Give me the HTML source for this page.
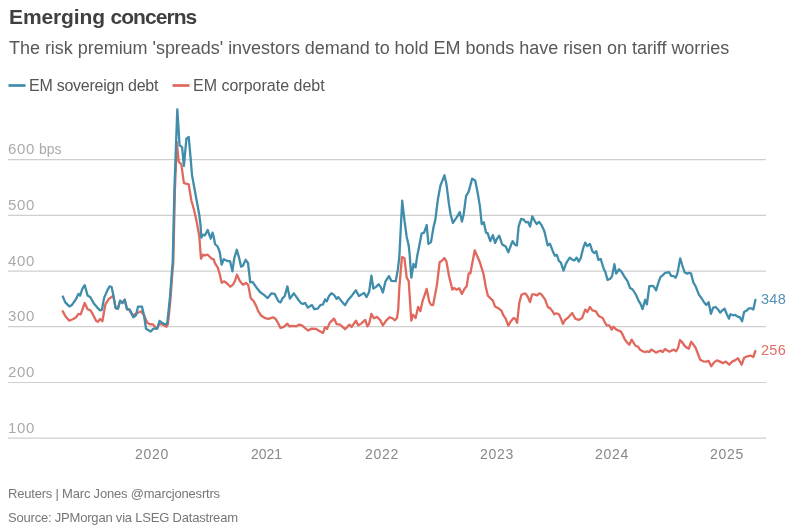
<!DOCTYPE html>
<html><head><meta charset="utf-8">
<style>
html,body{margin:0;padding:0;background:#fff;}
body{width:795px;height:525px;position:relative;overflow:hidden;font-family:"Liberation Sans",sans-serif;}
.t{position:absolute;white-space:nowrap;line-height:1;will-change:transform;}
#title{left:9px;top:6px;font-size:21px;font-weight:bold;color:#404040;letter-spacing:-0.45px;}
#sub{left:9px;top:39px;font-size:18px;color:#595959;letter-spacing:-0.03px;}
.leg{top:78px;font-size:16px;color:#555;}
.yl{font-size:15px;color:#aaa;left:7.6px;letter-spacing:0.6px;}
.xl{font-size:14px;color:#888;top:447px;letter-spacing:0.7px;}
.ft{font-size:13px;color:#777;left:8px;letter-spacing:-0.2px;}
svg{position:absolute;left:0;top:0;}
</style></head><body>
<div class="t" id="title"><span style="letter-spacing:-0.12px">Emerging</span><span style="position:absolute;left:101.5px;letter-spacing:-0.95px">concerns</span></div>
<div class="t" id="sub">The risk premium 'spreads' investors demand to hold EM bonds have risen on tariff worries</div>
<div class="t leg" style="left:29px;letter-spacing:-0.25px">EM sovereign debt</div>
<div class="t leg" style="left:193px">EM corporate debt</div>
<div class="t yl" style="top:141px;letter-spacing:0"><span style="letter-spacing:0.7px">600</span><span style="font-size:14px;letter-spacing:0"> bps</span></div>
<div class="t yl" style="top:197px">500</div>
<div class="t yl" style="top:253px">400</div>
<div class="t yl" style="top:308px">300</div>
<div class="t yl" style="top:364px">200</div>
<div class="t yl" style="top:420px">100</div>
<div class="t xl" style="left:134.7px">2020</div>
<div class="t xl" style="left:251.3px;letter-spacing:0">2021</div>
<div class="t xl" style="left:365.3px">2022</div>
<div class="t xl" style="left:480.3px">2023</div>
<div class="t xl" style="left:595.3px">2024</div>
<div class="t xl" style="left:710.3px">2025</div>
<div class="t" style="left:760.6px;top:291.8px;font-size:14.5px;letter-spacing:0.3px;color:#5392b0">348</div>
<div class="t" style="left:760.8px;top:342.6px;font-size:14.5px;letter-spacing:0.3px;color:#de7065">256</div>
<div class="t ft" style="top:487px">Reuters | Marc Jones @marcjonesrtrs</div>
<div class="t ft" style="top:511px">Source: JPMorgan via LSEG Datastream</div>
<svg width="795" height="525" viewBox="0 0 795 525">
<g stroke="#cfcfcf" stroke-width="1.2">
<line x1="8" x2="766" y1="159.6" y2="159.6"/>
<line x1="8" x2="766" y1="215.4" y2="215.4"/>
<line x1="8" x2="766" y1="271.1" y2="271.1"/>
<line x1="8" x2="766" y1="326.6" y2="326.6"/>
<line x1="8" x2="766" y1="382.5" y2="382.5"/>
<line x1="8" x2="766" y1="438.2" y2="438.2"/>
</g>
<line x1="8.5" x2="25.5" y1="85.5" y2="85.5" stroke="#3f8daa" stroke-width="2.7"/>
<line x1="172.5" x2="189.5" y1="85.5" y2="85.5" stroke="#e0685d" stroke-width="2.7"/>
<g fill="none" stroke-width="2.3" stroke-linejoin="round" stroke-linecap="round">
<polyline id="red" stroke="#e0685d" points="62.8,311.3 65.3,316.1 69.3,320.7 73.3,319.0 76.1,317.3 78.4,313.9 80.7,314.4 84.7,303.0 87.6,309.3 90.4,310.4 92.7,313.9 96.1,320.7 97.9,321.9 100.1,319.0 102.4,321.3 105.3,304.7 108.7,299.0 111.0,297.3 113.3,295.6 115.6,308.1 117.9,308.7 120.1,300.7 122.4,303.0 124.7,299.6 127.0,309.3 129.3,309.3 130.0,311.3 132.7,315.3 138.0,312.7 141.3,311.3 144.0,315.3 147.3,322.7 149.3,324.0 153.3,324.7 156.7,328.7 158.7,324.7 161.3,324.0 166.5,326.7 167.8,324.5 169.1,313.0 170.6,297.5 172.0,278.0 173.3,262.0 174.9,190.0 176.8,142.0 178.7,161.7 181.3,164.3 183.9,183.1 186.0,183.7 188.7,184.3 191.3,200.3 194.0,209.7 196.7,221.7 199.3,236.3 200.3,250.0 201.0,258.7 203.0,254.7 205.0,255.3 207.7,254.7 209.7,256.7 211.7,258.7 213.7,259.3 215.0,263.3 217.7,267.3 219.7,274.0 221.7,282.7 224.3,281.3 227.7,284.0 230.3,286.7 233.0,284.7 235.0,280.7 237.0,274.7 239.7,280.7 241.7,283.3 243.1,284.8 246.0,282.9 248.2,284.8 250.7,298.1 253.6,301.0 256.0,305.6 258.1,310.9 260.8,315.2 264.5,317.8 268.3,318.9 273.1,317.3 275.7,318.9 278.4,323.7 280.5,328.0 283.7,326.9 287.4,323.7 289.6,326.4 292.3,325.8 296.0,326.4 299.2,324.6 301.9,325.3 307.9,330.5 311.7,328.6 316.0,328.9 322.9,333.1 325.1,327.1 327.1,328.9 329.7,322.9 334.0,318.6 336.6,324.1 340.0,324.6 345.1,329.2 349.4,324.6 351.5,327.1 355.9,320.6 358.3,325.4 361.4,323.4 365.2,319.9 367.4,326.3 369.1,323.7 371.4,313.8 373.8,318.2 377.2,316.9 380.3,320.3 382.9,325.4 386.3,320.3 389.7,317.2 392.3,318.2 394.9,320.3 397.1,317.7 398.3,308.3 399.3,288.0 401.9,257.1 404.4,258.0 406.7,277.7 408.7,281.1 411.3,320.6 413.0,314.6 415.6,318.0 418.1,306.9 420.4,311.1 422.4,301.7 426.7,288.9 429.3,301.7 431.0,304.8 433.1,305.1 437.0,284.6 439.6,262.3 442.1,260.6 444.4,258.0 446.4,261.4 449.0,276.0 452.4,289.7 454.1,288.0 456.7,289.7 459.3,288.3 461.9,294.0 464.4,288.9 466.7,286.3 468.7,273.4 470.4,273.4 474.7,250.3 479.9,262.3 483.5,274.0 485.7,286.4 487.9,295.7 490.0,297.9 492.9,300.7 495.0,306.4 497.9,307.9 501.4,310.7 503.6,315.7 505.7,318.6 508.3,325.7 510.7,321.4 513.6,317.9 515.4,319.0 517.1,322.9 519.3,302.9 521.4,295.0 523.6,293.6 525.7,293.6 527.9,297.1 530.0,302.1 532.1,294.3 534.3,294.3 537.1,295.3 539.3,293.3 541.4,294.3 545.0,299.3 547.9,307.1 550.0,308.1 552.1,310.7 554.3,314.3 556.4,313.3 558.9,314.3 560.7,317.9 562.9,323.9 565.0,320.0 568.4,317.3 572.2,313.0 575.3,318.7 578.7,319.9 582.1,318.1 585.2,309.6 587.3,312.1 589.9,307.0 592.4,310.4 595.9,311.3 598.4,315.6 600.0,316.7 602.7,318.0 604.7,322.0 606.7,325.3 609.3,325.3 611.7,329.6 613.3,326.7 616.0,329.3 618.0,330.4 620.7,331.3 622.7,334.7 624.7,339.3 626.7,342.0 629.3,344.7 631.7,339.6 634.0,343.3 635.7,346.0 638.0,346.7 640.0,349.6 642.7,351.3 645.3,352.0 647.3,351.3 649.3,352.0 651.3,349.6 653.3,350.7 656.0,352.7 658.7,351.3 660.7,350.7 662.7,352.0 665.1,349.1 667.3,350.4 669.3,351.7 672.0,350.4 674.0,349.6 676.0,351.3 678.0,348.0 680.0,340.0 682.0,342.0 684.7,346.0 687.3,348.0 688.8,348.7 691.1,341.8 693.4,344.6 695.7,347.9 698.0,354.0 700.2,359.8 703.3,361.3 706.3,361.6 708.6,360.9 711.2,366.2 714.0,362.4 717.0,360.4 720.0,361.6 723.1,363.1 725.8,361.6 729.2,364.7 732.2,361.6 735.3,360.1 738.0,358.3 741.7,364.7 744.1,357.8 747.5,356.3 750.5,355.5 753.3,357.0 755.4,351.0"/>
<polyline id="blue" stroke="#3f8daa" points="62.8,296.5 65.3,302.4 69.3,306.4 71.6,305.3 76.1,299.0 78.4,293.9 80.1,295.6 82.4,288.7 84.7,285.1 87.6,295.6 90.4,297.3 93.9,303.6 97.3,307.6 100.1,310.4 101.9,309.9 104.1,297.9 107.6,289.9 109.6,286.4 111.6,287.0 113.3,295.0 115.6,308.1 117.9,308.7 120.1,300.7 122.4,303.0 124.7,299.6 127.0,309.3 129.3,309.3 130.0,310.0 133.3,317.3 136.0,315.3 138.0,306.7 142.0,306.7 144.0,315.3 146.0,328.7 150.7,331.6 153.3,328.7 157.3,328.7 159.6,320.9 162.0,322.7 166.0,324.7 167.3,322.5 168.5,311.4 170.0,296.7 171.4,278.0 172.7,262.0 174.4,190.0 177.3,109.4 179.6,145.4 182.1,147.1 183.9,166.0 186.4,138.6 188.7,136.9 190.7,159.1 192.0,175.0 196.0,197.0 199.3,215.0 200.6,226.0 201.3,237.7 203.0,234.7 205.0,235.3 207.7,230.0 209.0,234.0 210.7,238.7 212.6,232.7 213.7,236.7 215.0,244.0 217.7,246.7 219.7,252.0 221.7,264.7 223.7,259.3 226.0,260.3 227.8,261.2 230.1,261.2 232.4,271.3 234.2,258.5 236.8,249.8 238.8,256.6 241.1,266.7 242.9,265.8 245.7,259.8 248.0,263.0 249.3,274.0 250.2,282.3 252.5,281.8 256.2,287.2 260.3,292.3 264.0,294.9 267.7,298.1 271.5,293.3 274.7,293.9 278.4,301.3 280.5,302.4 282.7,298.1 284.8,296.0 287.4,286.4 289.9,298.7 293.8,293.3 297.6,298.7 300.8,302.9 302.9,304.0 305.0,302.9 307.9,307.6 310.7,305.7 312.1,305.2 314.3,309.1 317.7,308.6 320.3,305.2 322.9,304.5 325.1,299.4 326.8,301.4 328.9,296.3 331.4,293.2 334.0,294.9 336.6,298.9 338.3,297.1 341.7,301.4 345.1,305.2 347.7,300.6 352.0,295.4 355.9,290.3 358.9,296.0 361.4,294.6 364.0,292.9 366.6,297.1 369.1,292.0 371.4,275.7 373.4,288.6 376.0,286.9 378.6,284.3 380.6,286.9 382.9,292.5 385.4,281.7 388.9,276.1 391.4,280.9 395.7,281.2 397.8,269.7 399.3,257.1 402.2,200.7 404.4,219.9 406.7,237.0 408.7,245.6 409.6,253.7 411.3,277.7 413.5,264.0 415.6,267.4 417.3,255.4 419.0,247.3 421.6,233.6 424.1,232.7 426.7,225.0 428.4,243.9 431.0,242.1 433.6,226.7 435.3,219.9 437.9,199.3 440.4,185.6 444.4,175.3 446.4,183.9 449.0,204.4 450.7,214.7 452.9,222.9 456.7,217.3 459.8,212.1 461.9,221.6 463.6,214.7 466.1,195.9 468.7,191.6 472.1,178.7 475.2,180.4 477.3,190.7 479.9,206.1 481.7,224.0 483.8,222.3 486.0,232.6 487.7,233.4 490.3,241.1 492.9,235.1 495.1,242.9 497.1,238.6 499.2,235.7 502.3,244.6 505.7,246.6 508.3,252.3 510.5,246.3 512.6,241.1 515.1,244.9 516.9,245.4 518.6,226.6 521.1,218.9 523.7,219.7 525.9,222.3 528.0,221.9 530.1,226.6 532.3,216.3 534.5,220.6 536.6,224.0 539.1,221.9 541.7,225.4 544.3,230.9 547.7,245.4 549.9,243.7 552.9,251.4 554.9,255.7 556.8,254.9 558.9,260.9 560.9,262.6 563.5,270.6 565.7,264.3 567.1,261.6 569.8,257.6 572.7,259.9 574.4,260.4 576.7,257.6 578.7,261.6 580.8,258.1 583.0,248.7 585.2,242.7 587.3,246.1 589.9,243.9 592.4,251.3 594.1,253.0 596.2,251.3 598.4,259.9 600.7,259.0 603.6,268.4 605.3,271.9 607.5,279.9 610.4,278.7 612.1,276.1 614.4,264.1 616.1,273.6 619.0,269.3 621.6,271.9 624.1,276.1 627.6,281.3 630.1,288.1 632.7,289.5 636.1,295.0 638.7,301.0 640.4,303.6 642.5,309.1 645.2,299.8 646.9,304.4 649.3,286.1 652.3,285.8 653.8,286.5 656.1,290.4 658.4,282.7 660.4,277.1 662.9,275.1 665.2,272.8 669.0,272.1 671.3,275.9 673.6,276.2 675.6,277.7 677.4,273.6 680.2,258.4 682.0,264.5 684.7,272.5 687.3,273.6 689.3,272.8 691.1,273.6 693.4,282.7 695.4,285.8 697.2,290.4 699.0,294.9 701.4,298.0 704.0,302.2 706.3,304.9 708.6,302.2 710.9,313.8 713.2,307.7 715.6,307.0 717.8,309.2 720.2,312.6 722.5,310.3 724.6,308.8 726.6,313.8 728.9,318.6 730.5,314.2 733.2,315.3 735.3,314.9 737.6,316.6 739.9,317.4 742.1,321.2 744.1,312.1 746.7,310.6 749.0,308.3 751.3,308.3 753.3,309.5 755.4,299.9"/>
</g>
</svg>
</body></html>
